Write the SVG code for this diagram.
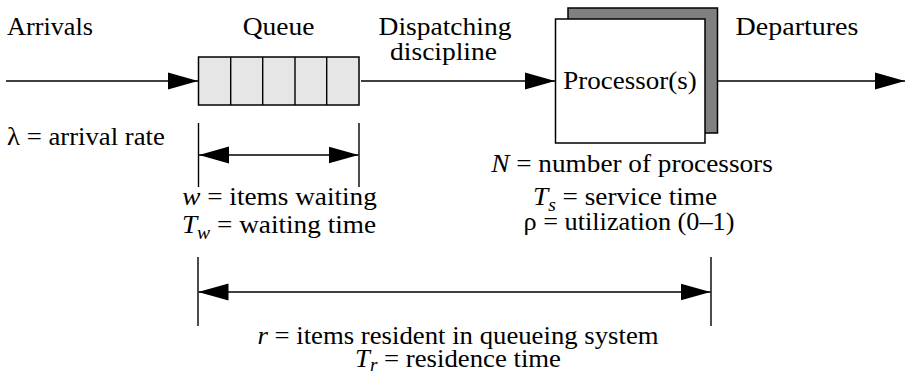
<svg xmlns="http://www.w3.org/2000/svg" width="906" height="372" viewBox="0 0 906 372">
  <style>
    text { font-family: 'Liberation Serif', 'Times New Roman', serif; font-size: 25px; fill: #000; }
    .c { text-anchor: middle; }
    .i { font-style: italic; }
    .sub { font-size: 18px; font-style: italic; }
    .ln { stroke: #000; stroke-width: 1.4; fill: none; }
    .box { stroke: #000; stroke-width: 1.5; }
  </style>
  <defs>
    <marker id="arr" markerUnits="userSpaceOnUse" markerWidth="30" markerHeight="18" refX="30" refY="9" orient="auto-start-reverse" viewBox="0 0 30 18">
      <path d="M0,0.5 L30,9 L0,17.5 Z" fill="#000"/>
    </marker>
  </defs>
  <rect width="906" height="372" fill="#fff"/>

  <g id="queue">
    <rect class="box" x="198.5" y="57" width="160.5" height="48" fill="#e6e6e6"/>
    <path class="ln" d="M230.7,57 V105 M262.7,57 V105 M295,57 V105 M326.7,57 V105"/>
  </g>

  <g id="processor">
    <rect class="box" x="568" y="8" width="149.5" height="125" fill="#808080"/>
    <rect class="box" x="555.5" y="19" width="149.5" height="124" fill="#fff"/>
    <text class="c" transform="translate(630,89) scale(1.08,1)">Processor(s)</text>
  </g>

  <g id="connectors">
    <line class="ln" x1="6" y1="81" x2="198" y2="81" marker-end="url(#arr)"/>
    <line class="ln" x1="361" y1="81" x2="555" y2="81" marker-end="url(#arr)"/>
    <line class="ln" x1="718" y1="81" x2="905" y2="81" marker-end="url(#arr)"/>
    <path class="ln" d="M198.5,123 V187 M359,123 V187"/>
    <line class="ln" x1="199" y1="155" x2="358.5" y2="155" marker-start="url(#arr)" marker-end="url(#arr)"/>
    <path class="ln" d="M198,257 V326 M711,257 V326"/>
    <line class="ln" x1="198.5" y1="292" x2="710.5" y2="292" marker-start="url(#arr)" marker-end="url(#arr)"/>
  </g>

  <g id="labels">
    <text transform="translate(7,35) scale(1.05,1)">Arrivals</text>
    <text class="c" transform="translate(278.5,35) scale(1.1,1)">Queue</text>
    <text class="c" transform="translate(445,35) scale(1.1,1)">Dispatching</text>
    <text class="c" transform="translate(443.5,60) scale(1.1,1)">discipline</text>
    <text class="c" transform="translate(797,35) scale(1.12,1)">Departures</text>

    <text transform="translate(7,145) scale(1.07,1)">λ = arrival rate</text>

    <text class="c" transform="translate(279.5,205) scale(1.09,1)"><tspan class="i">w</tspan> = items waiting</text>
    <text class="c" transform="translate(279,233) scale(1.09,1)"><tspan class="i">T</tspan><tspan class="sub" dy="6">w</tspan><tspan dy="-6"> = waiting time</tspan></text>

    <text class="c" transform="translate(632,172) scale(1.09,1)"><tspan class="i">N</tspan> = number of processors</text>
    <text class="c" transform="translate(625,205) scale(1.09,1)"><tspan class="i">T</tspan><tspan class="sub" dy="6">s</tspan><tspan dy="-6"> = service time</tspan></text>
    <text class="c" transform="translate(629,230) scale(1.05,1)">ρ = utilization (0–1)</text>

    <text class="c" transform="translate(458,344) scale(1.07,1)"><tspan class="i">r</tspan> = items resident in queueing system</text>
    <text class="c" transform="translate(458,367) scale(1.07,1)"><tspan class="i">T</tspan><tspan class="sub" dy="4">r</tspan><tspan dy="-4"> = residence time</tspan></text>
  </g>
</svg>
